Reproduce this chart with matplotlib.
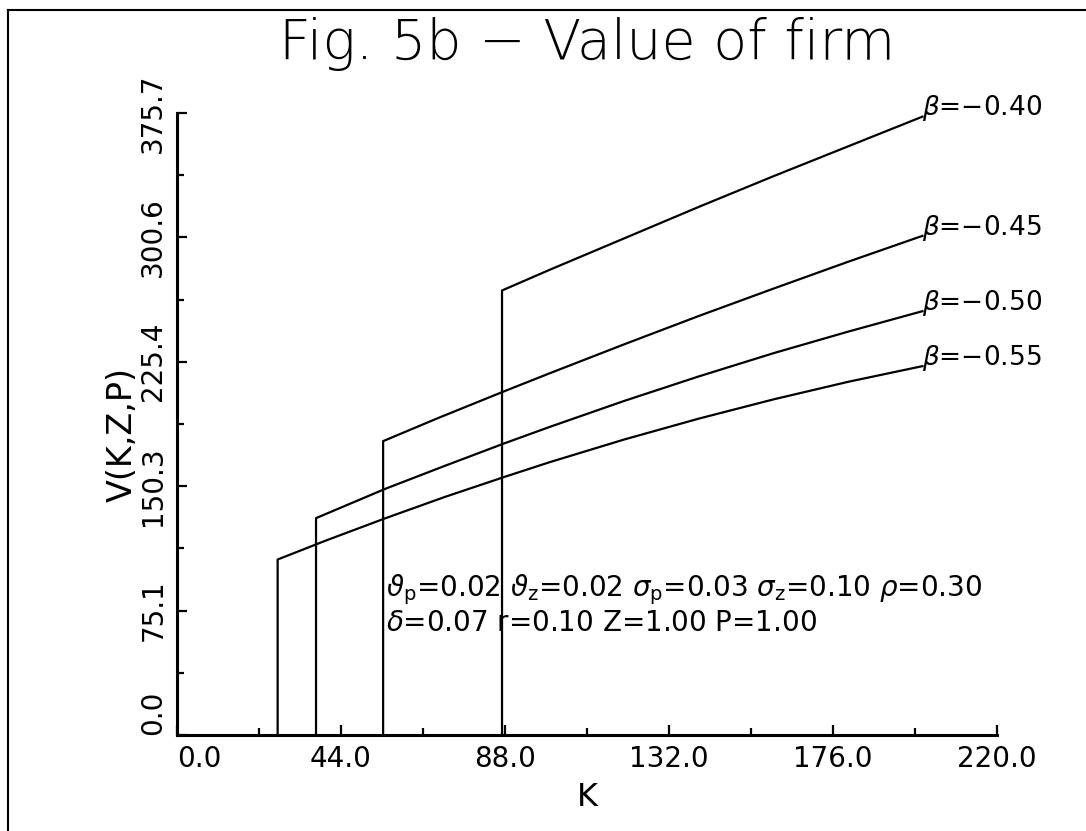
import matplotlib
matplotlib.use("Agg")
import matplotlib.pyplot as plt
from matplotlib.lines import Line2D

# Firm value V(K,Z,P) for four values of beta
betas = ["-0.40", "-0.45", "-0.50", "-0.55"]

k_b40 = [87.2, 87.2, 100, 120, 140, 160, 180, 200]
v_b40 = [0, 268.5, 281, 300, 319, 337.5, 355.5, 373.5]

k_b45 = [55.3, 55.3, 70, 88, 100, 120, 140, 160, 180, 200]
v_b45 = [0, 177.5, 191.4, 207.8, 218.5, 236, 253.1, 269.6, 285.8, 301.5]

k_b50 = [37.3, 37.3, 56, 72, 88, 100, 120, 140, 160, 180, 200]
v_b50 = [0, 131, 148.8, 162.7, 176.3, 186.1, 201.8, 216.6, 230.6, 243.6, 256]

k_b55 = [27, 27, 40, 56, 72, 88, 100, 120, 140, 160, 180, 200]
v_b55 = [0, 106, 117.5, 131, 143.9, 156, 164.8, 178.5, 191.1, 202.7, 213.3, 222.8]

x_ticks = [0.0, 44.0, 88.0, 132.0, 176.0, 220.0]
y_ticks = [0.0, 75.14, 150.28, 225.42, 300.56, 375.7]
y_tick_labels = ["0.0", "75.1", "150.3", "225.4", "300.6", "375.7"]

W, H = 1086, 831
fig = plt.figure(figsize=(W / 100, H / 100), dpi=100)
plt.rcParams["mathtext.fontset"] = "dejavusans"

ax = fig.add_axes([177 / W, 1 - 735 / H, (997 - 177) / W, (735 - 113) / H])
ax.set_xlim(0, 220)
ax.set_ylim(0, 375.7)

for k, v in [(k_b40, v_b40), (k_b45, v_b45), (k_b50, v_b50), (k_b55, v_b55)]:
    ax.plot(k, v, color="black", lw=1.6, solid_joinstyle="round", clip_on=False)

# beta labels at the right end of each curve
for b, k, v in zip(betas, [k_b40, k_b45, k_b50, k_b55], [v_b40, v_b45, v_b50, v_b55]):
    ax.annotate(r"$\beta$=" + b.replace("-", "\u2212"), xy=(k[-1], v[-1]),
                xytext=(0, 6), textcoords="offset points",
                ha="left", va="center", fontsize=19)

# axes styling: only left and bottom spines
for s in ["top", "right"]:
    ax.spines[s].set_visible(False)
for s in ["left", "bottom"]:
    ax.spines[s].set_linewidth(2.2)

ax.set_xticks(x_ticks)
ax.set_xticklabels([f"{t:.1f}" for t in x_ticks])
ax.set_xticks([22, 66, 110, 154, 198], minor=True)
ax.set_yticks(y_ticks)
ax.set_yticklabels(y_tick_labels)
ax.set_yticks([(y_ticks[i] + y_ticks[i + 1]) / 2 for i in range(5)], minor=True)

ax.tick_params(which="major", direction="in", length=7, width=1.6, labelsize=20, pad=7)
ax.tick_params(which="minor", direction="in", length=5, width=1.6)
ax.tick_params(axis="y", labelrotation=90)
for lab in ax.get_yticklabels():
    lab.set_va("center")
ax.get_xticklabels()[0].set_ha("left")
ax.get_yticklabels()[0].set_va("bottom")

# axis titles
fig.text(122 / W, 1 - 435 / H, "V(K,Z,P)", rotation=90, ha="center", va="center", fontsize=24)
fig.text(587 / W, 1 - 797 / H, "K", ha="center", va="center", fontsize=23)

# title
fig.text(587 / W, 1 - 44 / H, "Fig. 5b \u2212 Value of firm", ha="center", va="center",
         fontsize=40, fontweight="light")

# parameter block
ax.text(56, (735 - 590) / (735 - 113) * 375.7,
        r"$\vartheta_{\rm p}$=0.02 $\vartheta_{\rm z}$=0.02 $\sigma_{\rm p}$=0.03 $\sigma_{\rm z}$=0.10 $\rho$=0.30",
        ha="left", va="center", fontsize=20)
ax.text(56, (735 - 623) / (735 - 113) * 375.7,
        r"$\delta$=0.07 r=0.10 Z=1.00 P=1.00",
        ha="left", va="center", fontsize=20)

# page frame (left and top edges)
fig.add_artist(Line2D([8 / W, 8 / W], [0, 1 - 10 / H], transform=fig.transFigure, color="black", lw=1.5))
fig.add_artist(Line2D([8 / W, 1], [1 - 10 / H, 1 - 10 / H], transform=fig.transFigure, color="black", lw=1.5))

fig.savefig("out.png", dpi=100)
